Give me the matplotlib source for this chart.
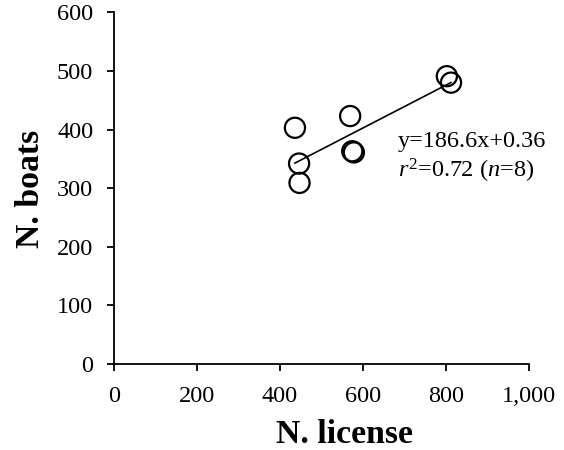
import matplotlib
matplotlib.use("Agg")
import matplotlib.pyplot as plt
import numpy as np

plt.rcParams['font.family'] = ['Liberation Serif', 'DejaVu Serif']
plt.rcParams['mathtext.fontset'] = 'custom'
plt.rcParams['mathtext.rm'] = 'Liberation Serif'
plt.rcParams['mathtext.it'] = 'Liberation Serif:italic'

n_license = [436, 446, 447, 569, 574, 578, 802, 812]
n_boats = [403, 342, 309, 423, 363, 361, 491, 480]
x_ticks = [0, 200, 400, 600, 800, 1000]
x_tick_labels = ["0", "200", "400", "600", "800", "1,000"]
y_ticks = [0, 100, 200, 300, 400, 500, 600]
eq_text = "y=186.6x+0.36"
r2_text = "$r^2$=0.72 ($n$=8)"

W, H = 564, 450
fig = plt.figure(figsize=(W / 100, H / 100), dpi=100)
ax = fig.add_axes([0.2021, 0.191, 0.7359, 0.7817])

x = np.array(n_license, dtype=float)
y = np.array(n_boats, dtype=float)
slope, intercept = np.polyfit(x, y, 1)
xl = np.array([x.min(), x.max()])
ax.plot(xl, slope * xl + intercept, color='black', lw=1.2, zorder=2)
ax.scatter(x, y, s=14.5**2, facecolors='none', edgecolors='black', linewidths=1.6, zorder=3)

ax.set_xlim(0, 1000)
ax.set_ylim(0, 600)
ax.set_xticks(x_ticks)
ax.set_xticklabels(x_tick_labels)
ax.set_yticks(y_ticks)
for s in ['top', 'right']:
    ax.spines[s].set_visible(False)
for s in ['left', 'bottom']:
    ax.spines[s].set_linewidth(1.3)
ax.tick_params(direction='out', length=5, width=1.3, labelsize=17.5)
ax.tick_params(axis='x', pad=11)
ax.tick_params(axis='y', pad=10)

fig.text(345 / W, 1 - 442.7 / H, "N. license", fontsize=24.3, fontweight='bold',
         ha='center', va='baseline')
fig.text(30.5 / W, 1 - 189 / H, "N. boats", fontsize=24.3, fontweight='bold',
         ha='center', va='center', rotation=90)

ax.text(684, 379, eq_text, fontsize=17.5, va='center', ha='left')
ax.text(684, 330, r2_text, fontsize=17.5, va='center', ha='left')

fig.savefig("out.png", dpi=100)
